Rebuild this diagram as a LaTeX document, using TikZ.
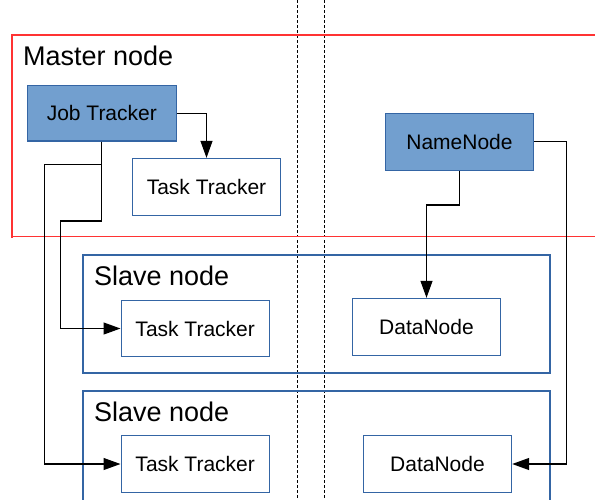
\documentclass[tikz,border=0pt]{standalone}
\usepackage{fontspec}
\setmainfont{Liberation Sans}
\usetikzlibrary{arrows.meta}
\definecolor{boxblue}{HTML}{3465A4}
\definecolor{fillblue}{HTML}{729FCF}
\definecolor{frame red}{HTML}{FF3333}
\tikzset{
  comp/.style={draw=boxblue, line width=1pt, minimum width=148.4pt, inner sep=0pt,
    font=\fontsize{21}{25}\selectfont, text=black},
  mastercomp/.style={comp, fill=fillblue, line width=1.2pt},
  title/.style={anchor=base west, inner sep=0pt, font=\fontsize{27}{32}\selectfont},
  conn/.style={draw=black, line width=1.2pt, -{Triangle[length=17pt,width=12pt]}},
  layerline/.style={draw=black, line width=0.8pt, dash pattern=on 3pt off 2pt},
  slavebox/.style={draw=boxblue, line width=2pt},
}
\begin{document}
\begin{tikzpicture}[x=1pt,y=-1pt]
\useasboundingbox (0,0) rectangle (595,499);
\clip (0,0) rectangle (595,499);
% layer separators
\draw[layerline] (297.3,0) -- (297.3,499);
\draw[layerline] (324.3,0) -- (324.3,499);
% master node frame
\draw[draw=frame red, line width=2.2pt] (11.8,34.8) rectangle (620,237.2);
\draw[white, line width=0.6pt] (12.9,237.2) -- (620,237.2);
\node[title] (mtitle) at (23,65) {Master node};
% slave frames
\draw[slavebox] (82.7,255) rectangle (549.7,372.7);
\draw[slavebox] (82.7,391) rectangle (549.7,530);
\node[title] (s1title) at (94,285.7) {Slave node};
\node[title] (s2title) at (94,421.4) {Slave node};
% components
\node[mastercomp, minimum width=149pt, minimum height=55.7pt] (jt) at (101.8,113.2) {Job Tracker};
\node[comp, minimum height=56.7pt] (tt0) at (206.5,186.7) {Task Tracker};
\node[mastercomp, minimum height=57pt] (nn) at (459.5,141.8) {NameNode};
\node[comp, minimum height=55.6pt] (tt1) at (195.2,328.5) {Task Tracker};
\node[comp, minimum height=56.6pt] (tt2) at (195.2,464) {Task Tracker};
\node[comp, minimum height=57.4pt] (dn1) at (426.5,327) {DataNode};
\node[comp, minimum height=56.6pt] (dn2) at (437.5,464) {DataNode};
% bend points
\coordinate (b1) at (44.3,164.3);
\coordinate (b2) at (60.3,221);
\coordinate (n1) at (426.5,205);
\coordinate (n2) at (566.5,141.8);
% connectors
\draw[conn] (jt.east) -| (tt0.north);
\draw[conn] (jt.south) |- (b1) |- (tt2.west);
\draw[conn] (jt.south) |- (b2) |- (tt1.west);
\draw[conn] (nn.south) |- (n1) -- (dn1.north);
\draw[conn] (nn.east) -- (n2) |- (dn2.east);
\end{tikzpicture}
\end{document}
